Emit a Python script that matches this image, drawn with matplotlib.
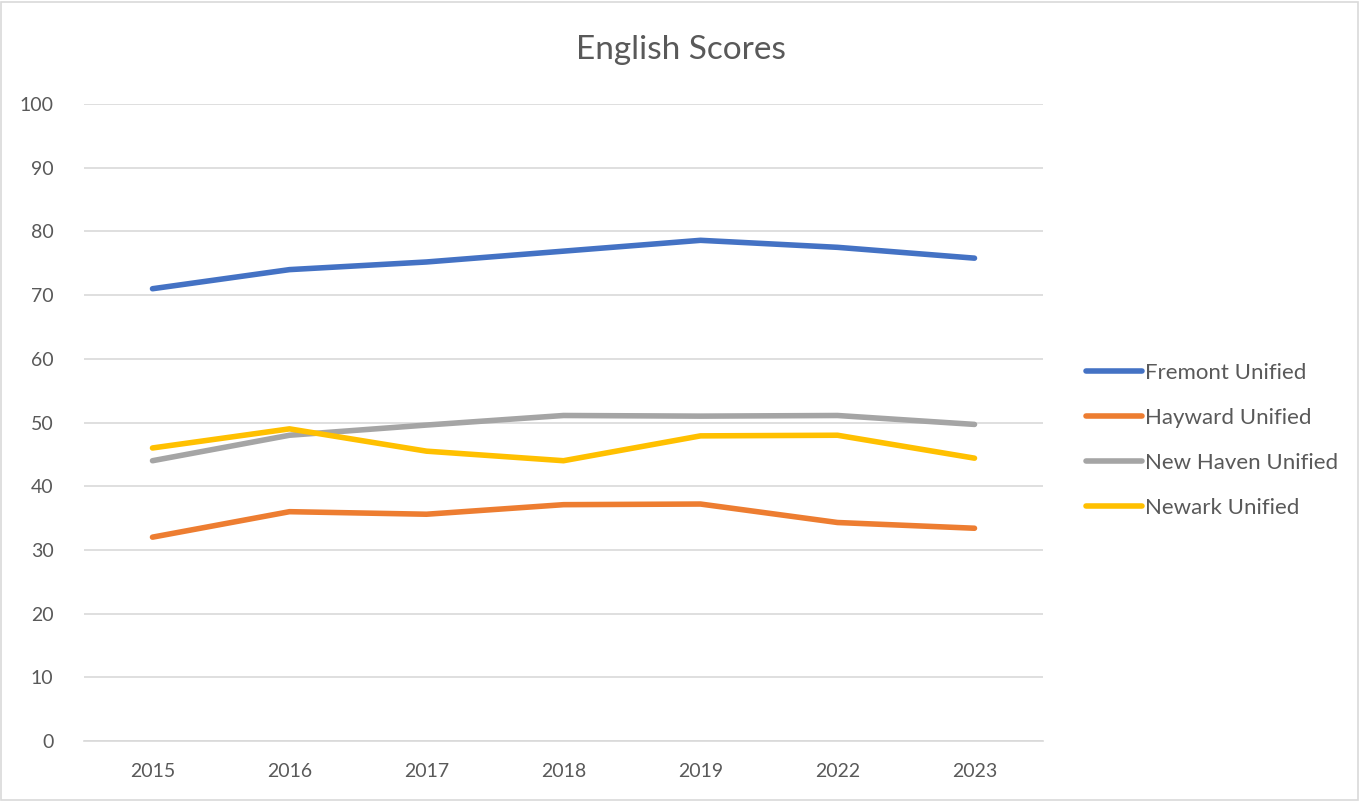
import matplotlib
matplotlib.use("Agg")
import matplotlib.pyplot as plt
from matplotlib.patches import Rectangle

years = ["2015", "2016", "2017", "2018", "2019", "2022", "2023"]
fremont = [71.0, 74.0, 75.2, 76.9, 78.6, 77.5, 75.8]
hayward = [32.0, 36.0, 35.6, 37.1, 37.2, 34.3, 33.4]
new_haven = [44.0, 48.0, 49.6, 51.1, 51.0, 51.1, 49.7]
newark = [46.0, 49.0, 45.5, 44.0, 47.9, 48.0, 44.4]
series_names = ["Fremont Unified", "Hayward Unified", "New Haven Unified", "Newark Unified"]
colors = ["#4472C4", "#ED7D31", "#A5A5A5", "#FFC000"]
yticks = list(range(0, 101, 10))

plt.rcParams['font.family'] = ['Lato', 'DejaVu Sans']
text_color = "#595959"

fig = plt.figure(figsize=(13.6, 8.01), dpi=100)
W, H = 1360, 801
ax = fig.add_axes([84 / W, 1 - 741 / H, (1043 - 84) / W, (741 - 104) / H])

x = list(range(len(years)))
for vals, name, c in zip([fremont, hayward, new_haven, newark], series_names, colors):
    ax.plot(x, vals, color=c, linewidth=4, label=name, solid_capstyle='round', solid_joinstyle='round')

ax.set_xlim(-0.5, len(years) - 0.5)
ax.set_ylim(0, 100)
ax.set_yticks(yticks)
ax.set_xticks(x)
ax.set_xticklabels(years)
ax.grid(axis='y', color="#D9D9D9", linewidth=1.2)
ax.set_axisbelow(True)
for s in ["top", "right", "left"]:
    ax.spines[s].set_visible(False)
ax.spines["bottom"].set_color("#D9D9D9")
ax.spines["bottom"].set_linewidth(1.2)
ax.tick_params(axis='both', length=0, labelsize=14, labelcolor=text_color)
ax.tick_params(axis='y', pad=22)
ax.tick_params(axis='x', pad=16)

fig.text(681 / W, 1 - 50 / H, "English Scores", ha='center', va='center', fontsize=24, color=text_color)

leg = fig.legend(loc='upper left', bbox_to_anchor=(1066 / W, 1 - 343 / H), frameon=False,
                 fontsize=16, labelcolor=text_color, handlelength=2.5, handletextpad=0.15,
                 labelspacing=1.12)
for line in leg.get_lines():
    line.set_linewidth(4)

fig.patches.append(Rectangle((1 / W, 1 / H), 1 - 3 / W, 1 - 3 / H, transform=fig.transFigure,
                             fill=False, edgecolor="#D9D9D9", linewidth=1.2))

fig.savefig("out.png", dpi=100)
